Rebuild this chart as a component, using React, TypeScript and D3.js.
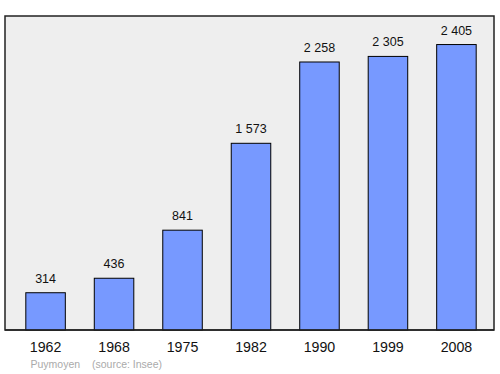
import React from 'react';
import * as d3 from 'd3';

const years = ['1962', '1968', '1975', '1982', '1990', '1999', '2008'];
const population = [314, 436, 841, 1573, 2258, 2305, 2405];
const commune = 'Puymoyen';
const source = '(source: Insee)';

const W = 500;
const H = 374;
// cadre gris du graphique
const frame = { left: 5, top: 16, right: 494, bottom: 330 };

const fmt = (v: number) => d3.format(',')(v).replace(/,/g, '\u00a0');

export default function App() {
  const x = d3.scaleBand<string>()
    .domain(years)
    .range([6.5, 495.5])
    .paddingInner(0.423)
    .paddingOuter(0.282);

  const y = d3.scaleLinear()
    .domain([0, d3.max(population)! * 1.1])
    .range([frame.bottom, frame.top]);

  const font = 'Liberation Sans, Arial, Helvetica, sans-serif';

  return (
    <svg width={W} height={H} style={{ position: 'absolute', left: 0, top: 0 }} fontFamily={font}>
      <rect x={0} y={0} width={W} height={H} fill="#ffffff" />
      <rect
        x={frame.left}
        y={frame.top}
        width={frame.right - frame.left}
        height={frame.bottom - frame.top}
        fill="#eeeeee"
        stroke="#222"
        strokeWidth={1.5}
      />
      {years.map((yr, i) => {
        const v = population[i];
        const bx = x(yr)!;
        const by = y(v);
        return (
          <g key={yr}>
            <rect
              x={bx}
              y={by}
              width={x.bandwidth()}
              height={frame.bottom - by}
              fill="#7799ff"
              stroke="#000"
              strokeWidth={1}
            />
            <text x={bx + x.bandwidth() / 2} y={by - 10} textAnchor="middle" fontSize={12.5} fill="#111">
              {fmt(v)}
            </text>
            <text x={bx + x.bandwidth() / 2} y={352} textAnchor="middle" fontSize={14.2} fill="#111">
              {yr}
            </text>
          </g>
        );
      })}
      <line x1={frame.left} x2={frame.right} y1={frame.bottom} y2={frame.bottom} stroke="#222" strokeWidth={1.5} />
      <text x={30.5} y={368} fontSize={10.5} fill="#aaaaaa">{commune}</text>
      <text x={92} y={368} fontSize={10.5} fill="#aaaaaa">{source}</text>
    </svg>
  );
}
